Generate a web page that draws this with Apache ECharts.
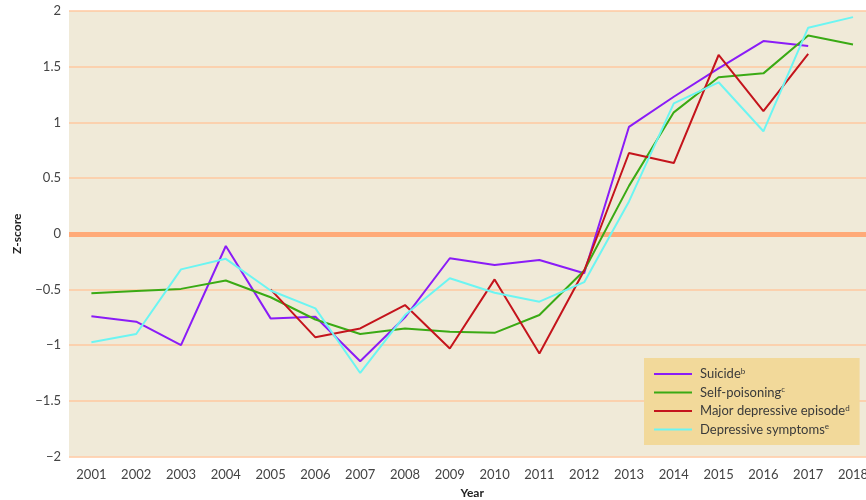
<!DOCTYPE html>
<html>
<head>
<meta charset="utf-8">
<script src="https://cdn.jsdelivr.net/npm/echarts@6/dist/echarts.min.js"></script>
<style>html,body{margin:0;padding:0;background:#fff;}#c{width:866px;height:500px;}</style>
</head>
<body>
<div id="c"></div>
<script>
const years = ['2001','2002','2003','2004','2005','2006','2007','2008','2009','2010','2011','2012','2013','2014','2015','2016','2017','2018'];
const yTicks = [-2, -1.5, -1, -0.5, 0, 0.5, 1, 1.5, 2];
const suicide = [-0.74, -0.79, -1.0, -0.11, -0.76, -0.745, -1.145, -0.75, -0.22, -0.28, -0.235, -0.355, 0.96, 1.23, 1.485, 1.73, 1.685, null];
const selfPoisoning = [-0.535, -0.515, -0.495, -0.42, -0.57, -0.77, -0.90, -0.85, -0.88, -0.89, -0.73, -0.33, 0.43, 1.09, 1.405, 1.44, 1.78, 1.70];
const majorDepressive = [null, null, null, null, -0.50, -0.93, -0.85, -0.64, -1.03, -0.41, -1.075, -0.33, 0.725, 0.635, 1.605, 1.10, 1.615, null];
const depressiveSymptoms = [-0.975, -0.90, -0.32, -0.225, -0.51, -0.67, -1.25, -0.73, -0.40, -0.53, -0.61, -0.435, 0.29, 1.17, 1.36, 0.92, 1.85, 1.945];
const legendNames = ['Suicide', 'Self-poisoning', 'Major depressive episode', 'Depressive symptoms'];
const supers = ['b','c','d','e'];
const colors = ['#8a1cf7', '#3aaa14', '#c4141c', '#6cf5f2'];
const font = 'Lato';

const chart = echarts.init(document.getElementById('c'));
const dataSets = [suicide, selfPoisoning, majorDepressive, depressiveSymptoms];
chart.setOption({
  animation: false,
  textStyle: {fontFamily: font},
  grid: {left: 69, top: 11, width: 806.4, height: 445.5, show: true, backgroundColor: '#f0ead8', borderWidth: 0,
         containLabel: false, outerBoundsMode: 'none'},
  legend: {
    show: true,
    orient: 'vertical',
    left: 644,
    top: 358,
    backgroundColor: '#f2d99a',
    padding: [9, 10, 9, 10],
    itemGap: 5,
    itemWidth: 38,
    itemHeight: 14.5,
    icon: 'path://M0,6 L38,6 L38,8 L0,8 Z',
    data: legendNames,
    formatter: function (n) { return n + '{s|' + supers[legendNames.indexOf(n)] + '}'; },
    textStyle: {
      fontFamily: font, fontSize: 13, color: '#3a3a3a', padding: [0, 0, 0, 3],
      rich: {s: {fontSize: 8, verticalAlign: 'top', padding: [0, 0, 6, 0], color: '#3a3a3a', fontFamily: font}}
    }
  },
  xAxis: {
    type: 'category',
    data: years,
    boundaryGap: true,
    name: 'Year',
    nameLocation: 'middle',
    nameGap: 31,
    nameTextStyle: {fontWeight: 'bold', fontSize: 12, color: '#222'},
    axisLine: {show: false},
    axisTick: {show: false},
    axisLabel: {color: '#444', fontSize: 13, margin: 12, interval: 0},
    splitLine: {show: false}
  },
  yAxis: {
    type: 'value',
    min: -2, max: 2, interval: 0.5,
    name: 'Z-score',
    nameLocation: 'middle',
    nameGap: 46,
    nameTextStyle: {fontWeight: 'bold', fontSize: 12, color: '#222'},
    axisLine: {show: false},
    axisTick: {show: false},
    axisLabel: {color: '#444', fontSize: 13, margin: 8,
      formatter: function (v) { return String(v).replace('-', '\u2212'); }},
    splitLine: {lineStyle: {color: '#ffc9a0', width: 1.5}}
  },
  series: legendNames.map(function (n, i) {
    const s = {
      name: n,
      type: 'line',
      data: dataSets[i],
      symbol: 'none',
      connectNulls: false,
      lineStyle: {color: colors[i], width: 2},
      itemStyle: {color: colors[i]},
      z: 3 + i
    };
    if (i === 0) {
      s.markLine = {
        silent: true, symbol: 'none', label: {show: false},
        lineStyle: {color: '#ffaa78', width: 5, type: 'solid'},
        data: [{yAxis: 0}],
        z: 1
      };
    }
    return s;
  })
});
</script>
</body>
</html>
